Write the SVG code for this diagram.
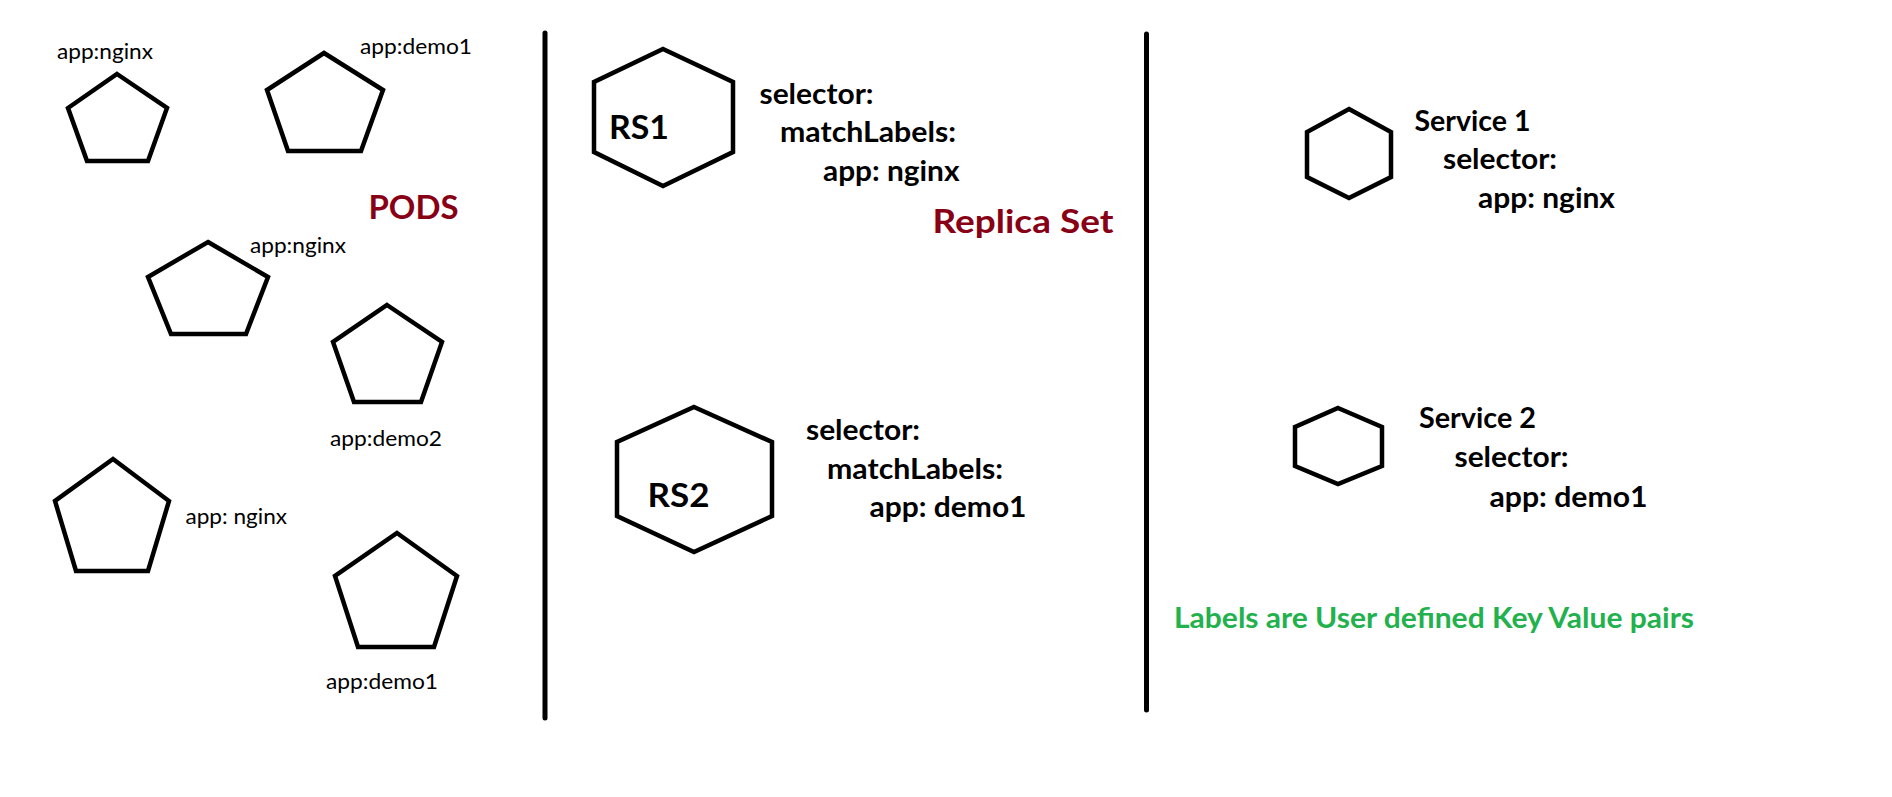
<svg xmlns="http://www.w3.org/2000/svg" width="1892" height="797" viewBox="0 0 1892 797">
<style>
  .shape { fill: none; stroke: #000; stroke-width: 4.5; stroke-linejoin: miter; }
  .divider { stroke: #000; stroke-width: 5; stroke-linecap: round; }
  .lbl { font-family: Lato, "Open Sans", sans-serif; font-size: 21.6px; fill: #000; }
  .b { font-family: Lato, "Open Sans", sans-serif; font-weight: 700; font-size: 28.8px; fill: #000; }
  .big { font-family: Lato, "Open Sans", sans-serif; font-weight: 700; font-size: 33px; fill: #000; }
  .title { font-family: Lato, "Open Sans", sans-serif; font-weight: 700; font-size: 33px; fill: #880015; }
  .note { font-family: Lato, "Open Sans", sans-serif; font-weight: 700; font-size: 28.8px; fill: #22B14C; }
</style>
<rect width="1892" height="797" fill="#fff"/>

<g id="connectors">
  <line class="divider" x1="545" y1="33" x2="545" y2="718"/>
  <line class="divider" x1="1146.5" y1="34" x2="1146.5" y2="710"/>
</g>

<g id="pod-1">
  <polygon class="shape" points="117,74 167,108 148,161 87,161 68,108"/>
  <text class="lbl" x="57" y="58.5" textLength="96" lengthAdjust="spacingAndGlyphs">app:nginx</text>
</g>
<g id="pod-2">
  <polygon class="shape" points="324,53 383,90 361,151 288,151 267,90"/>
  <text class="lbl" x="360" y="53.5" textLength="112" lengthAdjust="spacingAndGlyphs">app:demo1</text>
</g>
<g id="pod-3">
  <polygon class="shape" points="208,242 268,277 246,334 171,334 148,277"/>
  <text class="lbl" x="250" y="252.5" textLength="96" lengthAdjust="spacingAndGlyphs">app:nginx</text>
</g>
<g id="pod-4">
  <polygon class="shape" points="387,305 442,342 421,402 354,402 333,342"/>
  <text class="lbl" x="330" y="445.5" textLength="112" lengthAdjust="spacingAndGlyphs">app:demo2</text>
</g>
<g id="pod-5">
  <polygon class="shape" points="113,459 169,501 148,571 76,571 55,501"/>
  <text class="lbl" x="185.5" y="523.5" textLength="101.5" lengthAdjust="spacingAndGlyphs">app: nginx</text>
</g>
<g id="pod-6">
  <polygon class="shape" points="397,533 457,576 434,647 358,647 335,576"/>
  <text class="lbl" x="326" y="688.5" textLength="112" lengthAdjust="spacingAndGlyphs">app:demo1</text>
</g>

<g id="pods-title">
  <text class="title" x="368.5" y="218.5" textLength="90" lengthAdjust="spacingAndGlyphs">PODS</text>
</g>

<g id="rs1">
  <polygon class="shape" points="663,49 733,82 733,152 663,186 594,152 594,82"/>
  <text class="big" x="609" y="138.5" textLength="60" lengthAdjust="spacingAndGlyphs">RS1</text>
  <text class="b" x="759.5" y="103.5" textLength="114" lengthAdjust="spacingAndGlyphs">selector:</text>
  <text class="b" x="780" y="142" textLength="176" lengthAdjust="spacingAndGlyphs">matchLabels:</text>
  <text class="b" x="823" y="180.7" textLength="136.5" lengthAdjust="spacingAndGlyphs">app: nginx</text>
</g>

<g id="replicaset-title">
  <text class="title" x="932.5" y="232.5" textLength="181" lengthAdjust="spacingAndGlyphs">Replica Set</text>
</g>

<g id="rs2">
  <polygon class="shape" points="694,407 772,442 772,516 694,552 617,516 617,442"/>
  <text class="big" x="647.5" y="506.7" textLength="62" lengthAdjust="spacingAndGlyphs">RS2</text>
  <text class="b" x="806" y="440" textLength="114" lengthAdjust="spacingAndGlyphs">selector:</text>
  <text class="b" x="827" y="479" textLength="176" lengthAdjust="spacingAndGlyphs">matchLabels:</text>
  <text class="b" x="869.5" y="517.3" textLength="157" lengthAdjust="spacingAndGlyphs">app: demo1</text>
</g>

<g id="service1">
  <polygon class="shape" points="1349,109 1391,132 1391,177 1349,198 1307,177 1307,132"/>
  <text class="b" x="1414.5" y="130.7" textLength="116" lengthAdjust="spacingAndGlyphs">Service 1</text>
  <text class="b" x="1443" y="169.3" textLength="114" lengthAdjust="spacingAndGlyphs">selector:</text>
  <text class="b" x="1478" y="208.3" textLength="137" lengthAdjust="spacingAndGlyphs">app: nginx</text>
</g>

<g id="service2">
  <polygon class="shape" points="1338,408 1382,427 1382,466 1338,484 1295,466 1295,427"/>
  <text class="b" x="1419" y="428.3" textLength="117" lengthAdjust="spacingAndGlyphs">Service 2</text>
  <text class="b" x="1454.5" y="467.3" textLength="114" lengthAdjust="spacingAndGlyphs">selector:</text>
  <text class="b" x="1489.5" y="506.7" textLength="158" lengthAdjust="spacingAndGlyphs">app: demo1</text>
</g>

<g id="note">
  <text class="note" x="1174" y="628.3" textLength="520" lengthAdjust="spacingAndGlyphs">Labels are User defined Key Value pairs</text>
</g>
</svg>
